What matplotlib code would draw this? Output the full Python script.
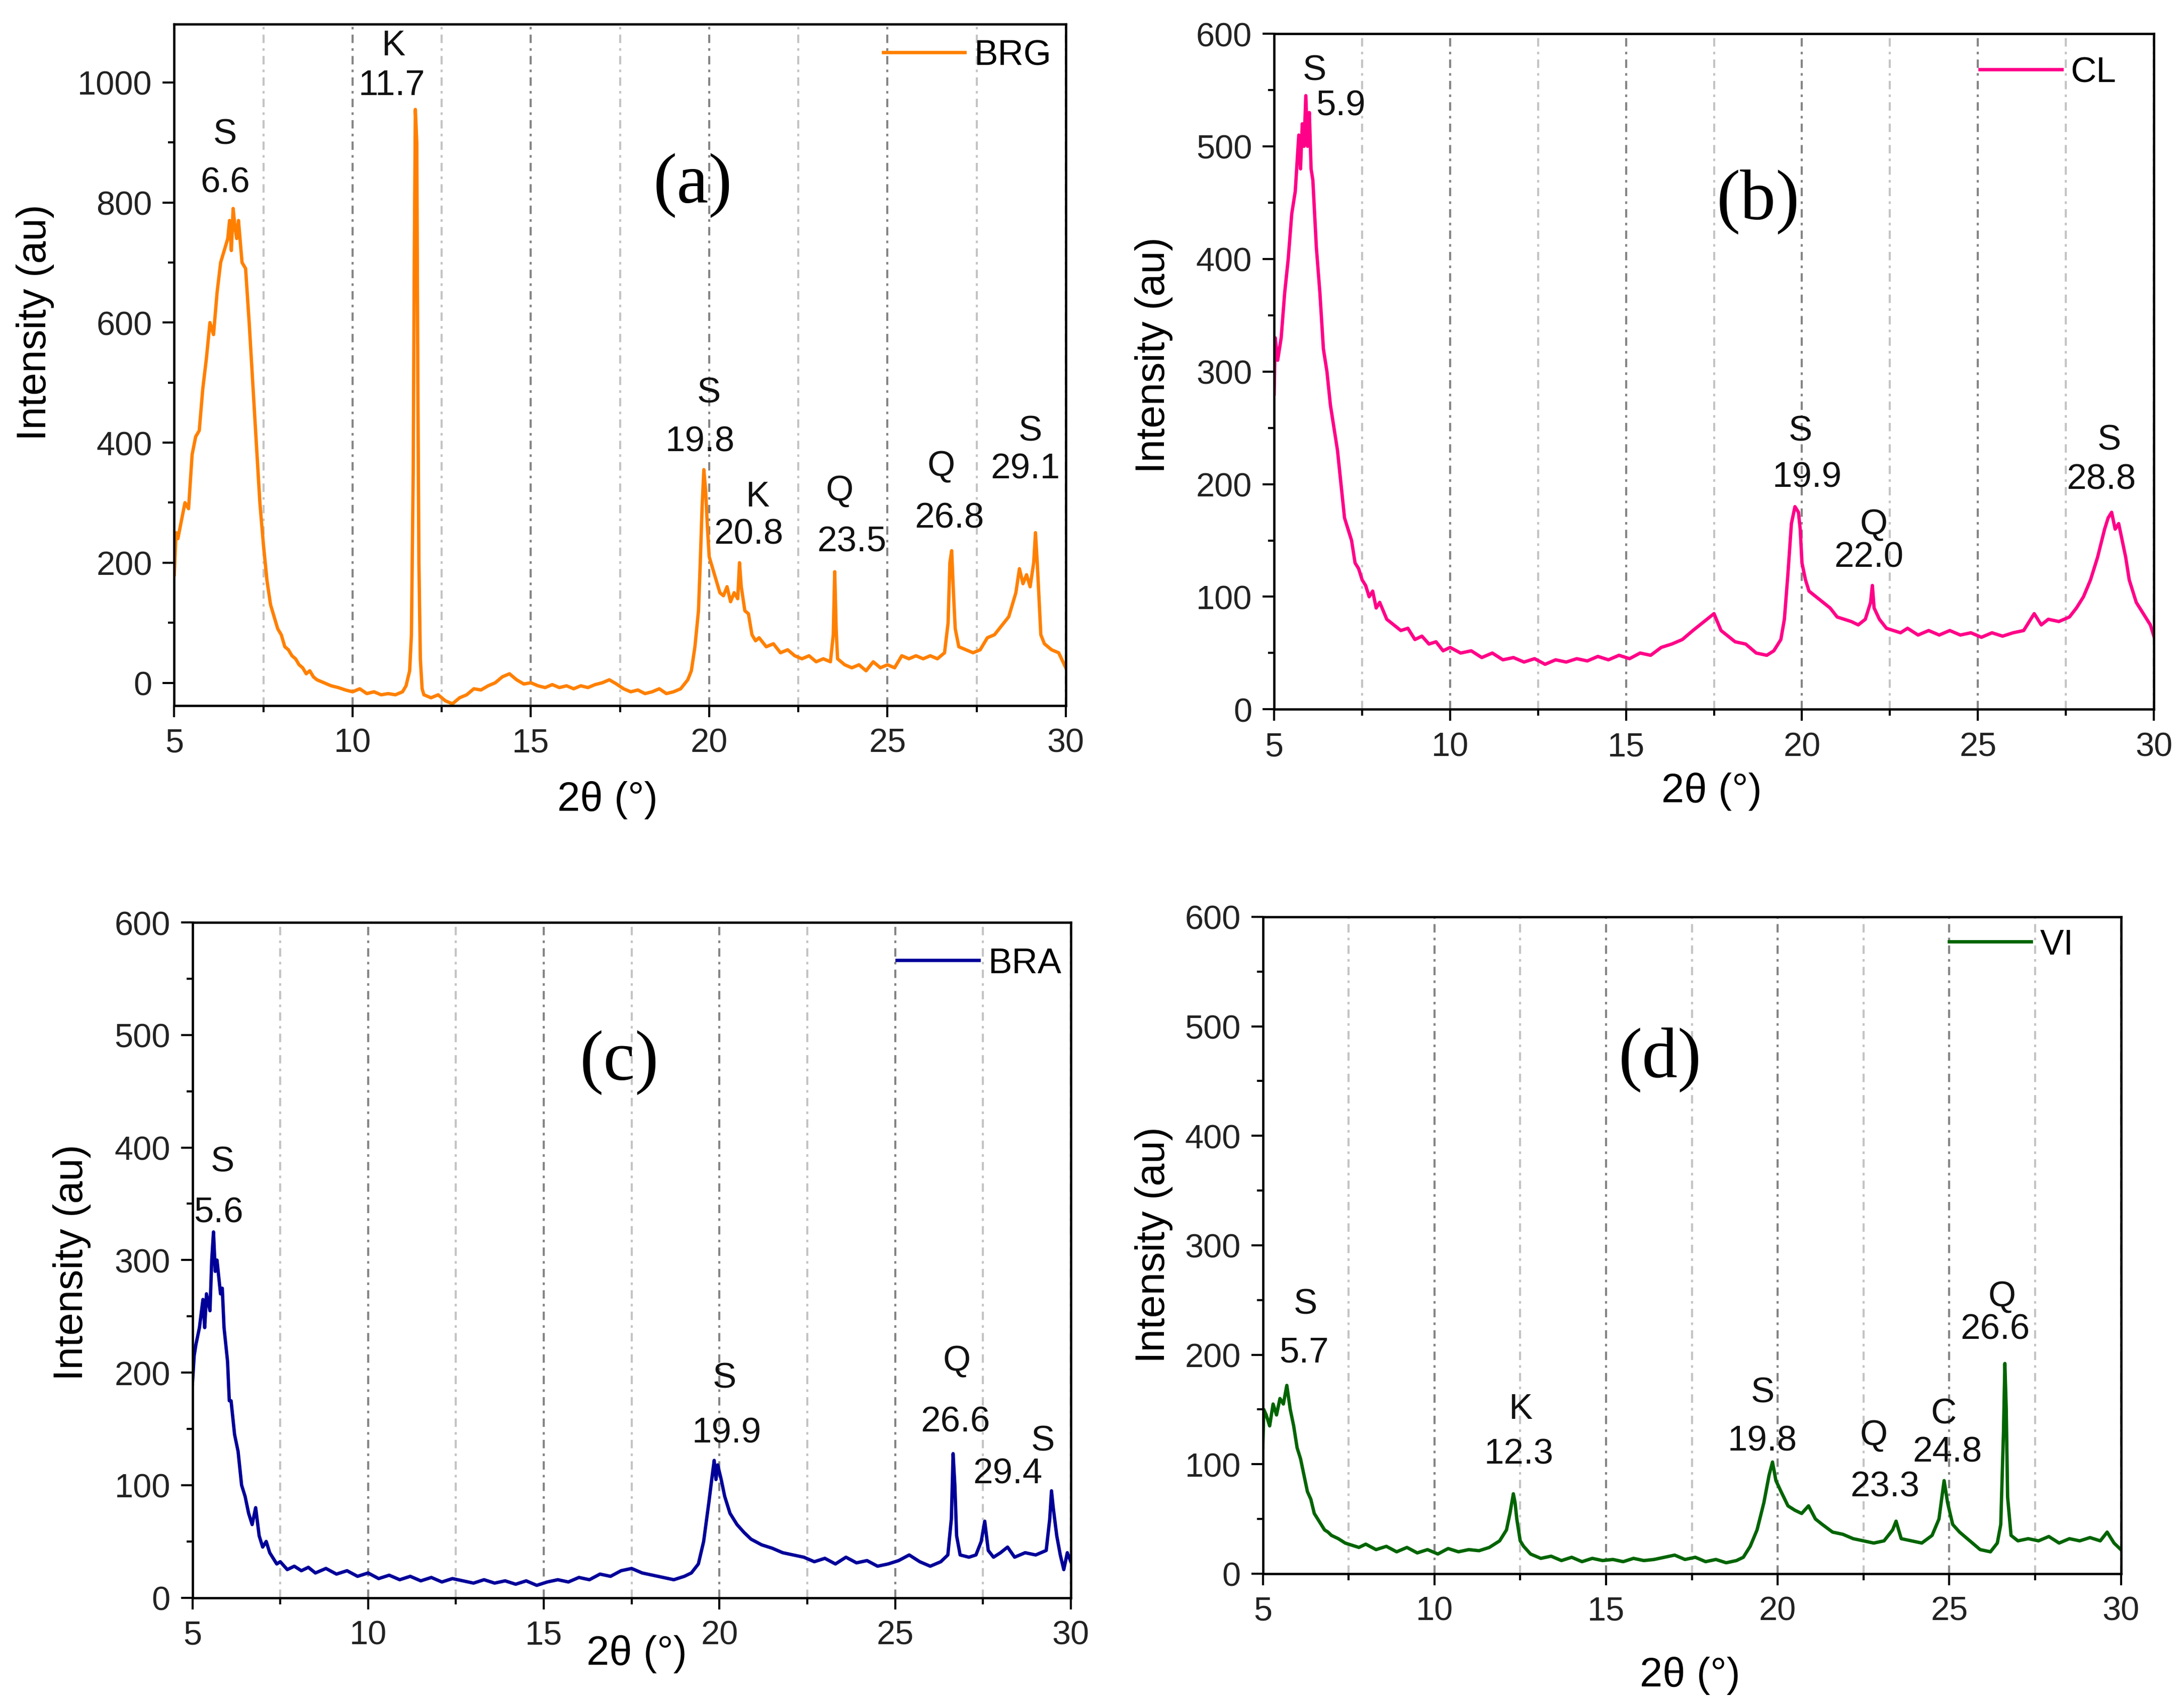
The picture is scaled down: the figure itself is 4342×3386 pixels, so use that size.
import matplotlib.pyplot as plt
from matplotlib.ticker import MultipleLocator

plt.rcParams['font.family'] = ['Liberation Sans', 'DejaVu Sans']

# ---- BRG (a) ----
brg_2theta = [5.0, 5.05, 5.1, 5.2, 5.3, 5.4, 5.5, 5.6, 5.7, 5.8, 5.9, 6.0, 6.1, 6.2, 6.3, 6.4,
              6.5, 6.55, 6.6, 6.65, 6.7, 6.75, 6.8, 6.9, 7.0, 7.1, 7.2, 7.3, 7.4, 7.5, 7.6, 7.7,
              7.8, 7.9, 8.0, 8.1, 8.2, 8.3, 8.4, 8.5, 8.6, 8.7, 8.8, 8.9, 9.0, 9.2, 9.4, 9.6,
              9.8, 10.0, 10.2, 10.4, 10.6, 10.8, 11.0, 11.2, 11.4, 11.5, 11.6, 11.65, 11.7, 11.73,
              11.76, 11.8, 11.83, 11.86, 11.9, 11.95, 12.0, 12.2, 12.4, 12.6, 12.8, 13.0, 13.2, 13.4,
              13.6, 13.8, 14.0, 14.2, 14.4, 14.6, 14.8, 15.0, 15.2, 15.4, 15.6, 15.8, 16.0, 16.2,
              16.4, 16.6, 16.8, 17.0, 17.2, 17.4, 17.6, 17.8, 18.0, 18.2, 18.4, 18.6, 18.8, 19.0,
              19.2, 19.4, 19.5, 19.6, 19.7, 19.75, 19.8, 19.85, 19.9, 19.95, 20.0, 20.1, 20.2, 20.3,
              20.4, 20.5, 20.6, 20.7, 20.8, 20.85, 20.9, 21.0, 21.1, 21.2, 21.3, 21.4, 21.6, 21.8,
              22.0, 22.2, 22.4, 22.6, 22.8, 23.0, 23.2, 23.4, 23.48, 23.52, 23.56, 23.6, 23.8, 24.0,
              24.2, 24.4, 24.6, 24.8, 25.0, 25.2, 25.4, 25.6, 25.8, 26.0, 26.2, 26.4, 26.6, 26.7,
              26.75, 26.8, 26.85, 26.9, 27.0, 27.2, 27.4, 27.6, 27.8, 28.0, 28.2, 28.4, 28.6, 28.7,
              28.8, 28.9, 29.0, 29.1, 29.15, 29.2, 29.3, 29.4, 29.6, 29.8, 30.0]
brg_counts = [180, 250, 240, 270, 300, 290, 380, 410, 420, 490, 540, 600, 580, 650, 700, 720,
              740, 770, 720, 790, 760, 740, 770, 700, 690, 600, 500, 400, 300, 230, 170, 130,
              110, 90, 80, 60, 55, 45, 40, 30, 25, 15, 20, 10, 5, 0, -5, -8,
              -12, -15, -10, -18, -15, -20, -18, -20, -15, -5, 20, 80, 350, 700,
              955, 900, 500, 200, 40, -10, -20, -25, -20, -30, -35, -25, -20, -10,
              -12, -5, 0, 10, 15, 5, -2, 0, -5, -8, -3, -8, -5, -10,
              -5, -8, -3, 0, 5, -2, -10, -15, -12, -18, -15, -10, -18, -15,
              -10, 5, 20, 60, 120, 200, 290, 355, 320, 260, 210, 190, 170, 150,
              145, 160, 135, 150, 140, 200, 160, 120, 115, 80, 70, 75, 60, 65,
              50, 55, 45, 40, 45, 35, 40, 35, 80, 185, 90, 40, 30, 25,
              30, 20, 35, 25, 30, 25, 45, 40, 45, 40, 45, 40, 50, 100,
              200, 220, 150, 90, 60, 55, 50, 55, 75, 80, 95, 110, 150, 190,
              165, 180, 160, 200, 250, 200, 80, 65, 55, 50, 25]

# ---- CL (b) ----
cl_2theta = [5.0, 5.03, 5.1, 5.2, 5.3, 5.4, 5.5, 5.6, 5.7, 5.75, 5.8, 5.85, 5.9, 5.95, 6.0, 6.05,
             6.1, 6.2, 6.3, 6.4, 6.5, 6.6, 6.7, 6.8, 6.9, 7.0, 7.1, 7.2, 7.3, 7.4, 7.5, 7.6,
             7.7, 7.8, 7.9, 8.0, 8.2, 8.4, 8.6, 8.8, 9.0, 9.2, 9.4, 9.6, 9.8, 10.0, 10.3, 10.6,
             10.9, 11.2, 11.5, 11.8, 12.1, 12.4, 12.7, 13.0, 13.3, 13.6, 13.9, 14.2, 14.5, 14.8,
             15.1, 15.4, 15.7, 16.0, 16.3, 16.6, 16.9, 17.1, 17.3, 17.5, 17.7, 17.9, 18.1, 18.4,
             18.7, 19.0, 19.2, 19.4, 19.5, 19.6, 19.7, 19.8, 19.9, 19.95, 20.0, 20.1, 20.2, 20.4,
             20.6, 20.8, 21.0, 21.2, 21.4, 21.6, 21.8, 21.95, 22.0, 22.05, 22.2, 22.4, 22.6, 22.8,
             23.0, 23.3, 23.6, 23.9, 24.2, 24.5, 24.8, 25.1, 25.4, 25.7, 26.0, 26.3, 26.6, 26.8,
             27.0, 27.3, 27.6, 27.8, 28.0, 28.2, 28.4, 28.6, 28.7, 28.8, 28.9, 29.0, 29.1, 29.2,
             29.3, 29.5, 29.7, 29.9, 30.0]
cl_counts = [280, 330, 310, 330, 370, 400, 440, 460, 510, 480, 520, 500, 545, 500, 530, 480,
             470, 410, 370, 320, 300, 270, 250, 230, 200, 170, 160, 150, 130, 125, 115, 110,
             100, 105, 90, 95, 80, 75, 70, 72, 62, 65, 58, 60, 52, 55, 50, 52,
             46, 50, 44, 46, 42, 45, 40, 44, 42, 45, 43, 47, 44, 48,
             45, 50, 48, 55, 58, 62, 70, 75, 80, 85, 70, 65, 60, 58,
             50, 48, 52, 62, 80, 120, 165, 180, 175, 160, 130, 115, 105, 100,
             95, 90, 82, 80, 78, 75, 80, 95, 110, 90, 80, 72, 70, 68,
             72, 66, 70, 66, 70, 66, 68, 64, 68, 65, 68, 70, 85, 75,
             80, 78, 82, 90, 100, 115, 135, 160, 170, 175, 160, 165, 150, 135,
             115, 95, 85, 75, 65]

# ---- BRA (c) ----
bra_2theta = [5.0, 5.05, 5.1, 5.2, 5.3, 5.35, 5.4, 5.5, 5.55, 5.6, 5.65, 5.7, 5.75, 5.8, 5.85, 5.9,
              6.0, 6.05, 6.1, 6.2, 6.3, 6.4, 6.5, 6.6, 6.7, 6.8, 6.9, 7.0, 7.1, 7.2, 7.3, 7.4,
              7.5, 7.7, 7.9, 8.1, 8.3, 8.5, 8.8, 9.1, 9.4, 9.7, 10.0, 10.3, 10.6, 10.9, 11.2, 11.5,
              11.8, 12.1, 12.4, 12.7, 13.0, 13.3, 13.6, 13.9, 14.2, 14.5, 14.8, 15.1, 15.4, 15.7,
              16.0, 16.3, 16.6, 16.9, 17.2, 17.5, 17.8, 18.1, 18.4, 18.7, 19.0, 19.2, 19.4, 19.55,
              19.7, 19.8, 19.85, 19.9, 19.95, 20.05, 20.15, 20.3, 20.5, 20.7, 20.9, 21.2, 21.5, 21.8,
              22.1, 22.4, 22.7, 23.0, 23.3, 23.6, 23.9, 24.2, 24.5, 24.8, 25.1, 25.4, 25.7, 26.0,
              26.3, 26.5, 26.6, 26.65, 26.7, 26.75, 26.85, 27.1, 27.3, 27.45, 27.55, 27.65, 27.8, 28.0,
              28.2, 28.4, 28.7, 29.0, 29.3, 29.4, 29.45, 29.5, 29.6, 29.7, 29.8, 29.9, 30.0]
bra_counts = [190, 215, 225, 240, 265, 240, 270, 255, 300, 325, 290, 300, 285, 270, 275, 240,
              210, 175, 175, 145, 130, 100, 90, 75, 65, 80, 55, 45, 50, 40, 35, 30,
              32, 25, 28, 24, 27, 22, 26, 21, 24, 19, 22, 17, 20, 16, 19, 15,
              18, 14, 17, 15, 13, 16, 13, 15, 12, 15, 11, 14, 16, 14,
              18, 16, 21, 19, 24, 26, 22, 20, 18, 16, 19, 22, 30, 50,
              85, 110, 122, 105, 118, 105, 90, 75, 65, 58, 52, 47, 44, 40,
              38, 36, 32, 35, 30, 36, 31, 33, 28, 30, 33, 38, 32, 28,
              32, 38, 70, 128, 100, 55, 38, 36, 38, 50, 68, 42, 36, 40,
              45, 36, 40, 38, 42, 70, 95, 80, 55, 38, 25, 40, 32]

# ---- VI (d) ----
vi_2theta = [5.0, 5.03, 5.1, 5.2, 5.3, 5.4, 5.5, 5.6, 5.7, 5.8, 5.9, 6.0, 6.1, 6.2, 6.3, 6.4,
             6.5, 6.6, 6.7, 6.8, 6.9, 7.0, 7.2, 7.4, 7.6, 7.8, 8.0, 8.3, 8.6, 8.9, 9.2, 9.5,
             9.8, 10.1, 10.4, 10.7, 11.0, 11.3, 11.6, 11.9, 12.1, 12.2, 12.3, 12.35, 12.4, 12.5,
             12.6, 12.8, 13.1, 13.4, 13.7, 14.0, 14.3, 14.6, 14.9, 15.2, 15.5, 15.8, 16.1, 16.4,
             16.7, 17.0, 17.3, 17.6, 17.9, 18.2, 18.5, 18.8, 19.0, 19.2, 19.4, 19.6, 19.75, 19.85,
             19.95, 20.1, 20.3, 20.5, 20.7, 20.9, 21.1, 21.3, 21.6, 21.9, 22.2, 22.5, 22.8, 23.1,
             23.35, 23.45, 23.6, 23.9, 24.2, 24.5, 24.7, 24.85, 24.95, 25.1, 25.3, 25.6, 25.9, 26.2,
             26.4, 26.5, 26.58, 26.62, 26.66, 26.7, 26.8, 27.0, 27.3, 27.6, 27.9, 28.2, 28.5, 28.8,
             29.1, 29.4, 29.6, 29.8, 30.0]
vi_counts = [115, 150, 145, 135, 155, 145, 160, 155, 172, 150, 135, 115, 105, 90, 75, 68,
             55, 50, 45, 40, 38, 35, 32, 28, 26, 24, 27, 22, 25, 20, 24, 19,
             22, 18, 23, 20, 22, 21, 24, 30, 40, 55, 73, 65, 50, 30,
             25, 18, 14, 16, 12, 15, 11, 14, 12, 13, 11, 14, 12, 13,
             15, 17, 13, 15, 11, 13, 10, 12, 15, 25, 40, 65, 90, 102,
             85, 75, 62, 58, 55, 62, 50, 45, 38, 36, 32, 30, 28, 30,
             40, 48, 32, 30, 28, 35, 50, 85, 65, 45, 38, 30, 22, 20,
             28, 45, 130, 192, 150, 70, 35, 30, 32, 30, 34, 28, 32, 30,
             33, 30, 38, 28, 22]

# peak labels: (x, y, text)
brg_marks = [(6.43, 913, 'S'), (6.43, 833, '6.6'), (11.14, 1061, 'K'), (11.1, 995, '11.7'),
             (19.99, 483, 'S'), (19.74, 401, '19.8'), (21.35, 310, 'K'), (21.11, 247, '20.8'),
             (23.66, 319, 'Q'), (24.0, 235, '23.5'), (26.51, 360, 'Q'), (26.74, 274, '26.8'),
             (29.0, 419, 'S'), (28.86, 356, '29.1')]
cl_marks = [(6.15, 567, 'S'), (6.89, 536, '5.9'), (19.96, 247, 'S'), (20.15, 206, '19.9'),
            (22.04, 164, 'Q'), (21.9, 135, '22.0'), (28.73, 239, 'S'), (28.51, 204, '28.8')]
bra_marks = [(5.86, 387, 'S'), (5.74, 342, '5.6'), (20.14, 195, 'S'), (20.2, 146, '19.9'),
             (26.75, 210, 'Q'), (26.71, 156, '26.6'), (29.2, 139, 'S'), (28.2, 110, '29.4')]
vi_marks = [(6.24, 246, 'S'), (6.2, 202, '5.7'), (12.5, 150, 'K'), (12.46, 109, '12.3'),
            (19.56, 165, 'S'), (19.56, 121, '19.8'), (22.8, 126, 'Q'), (23.13, 79, '23.3'),
            (24.84, 146, 'C'), (24.94, 111, '24.8'), (26.53, 253, 'Q'), (26.33, 223, '26.6')]

panels = [
    dict(x=brg_2theta, y=brg_counts, name='BRG', color='#FF8000', marks=brg_marks,
         rect=[0.0798, 0.5855, 0.4082, 0.4000], ylim=(-38, 1097), major=200, minor=100,
         tag='(a)', tag_xy=(19.54, 829), leg=(0.795, 0.954),
         xlab=(0.486, -0.138), ylab=(-0.156, 0.563)),
    dict(x=cl_2theta, y=cl_counts, name='CL', color='#FF0088', marks=cl_marks,
         rect=[0.5834, 0.5833, 0.4028, 0.3966], ylim=(0, 600), major=100, minor=50,
         tag='(b)', tag_xy=(18.76, 451), leg=(0.802, 0.942),
         xlab=(0.497, -0.121), ylab=(-0.137, 0.525)),
    dict(x=bra_2theta, y=bra_counts, name='BRA', color='#000099', marks=bra_marks,
         rect=[0.0881, 0.0618, 0.4022, 0.3964], ylim=(0, 600), major=100, minor=50,
         tag='(c)', tag_xy=(17.15, 476), leg=(0.802, 0.939),
         xlab=(0.506, -0.083), ylab=(-0.137, 0.497)),
    dict(x=vi_2theta, y=vi_counts, name='VI', color='#006400', marks=vi_marks,
         rect=[0.5782, 0.0759, 0.3929, 0.3856], ylim=(0, 600), major=100, minor=50,
         tag='(d)', tag_xy=(16.58, 470), leg=(0.800, 0.957),
         xlab=(0.498, -0.155), ylab=(-0.127, 0.501)),
]

fig = plt.figure(figsize=(4342 / 300, 3387 / 300), dpi=300)

for p in panels:
    ax = fig.add_axes(p['rect'])
    ax.plot(p['x'], p['y'], color=p['color'], lw=1.6, label=p['name'])
    ax.set_xlim(5, 30)
    ax.set_ylim(*p['ylim'])
    ax.xaxis.set_major_locator(MultipleLocator(5))
    ax.xaxis.set_minor_locator(MultipleLocator(2.5))
    ax.set_yticks([t for t in range(0, int(p['ylim'][1]) + 1, p['major'])])
    ax.yaxis.set_minor_locator(MultipleLocator(p['minor']))
    ax.tick_params(which='major', direction='out', length=5.5, width=1.0, labelsize=16,
                   pad=5, colors='black', labelcolor='#222222')
    ax.tick_params(which='minor', direction='out', length=3, width=1.0)
    ax.tick_params(top=False, right=False, which='both')
    for sp in ax.spines.values():
        sp.set_linewidth(1.1)

    # vertical grid lines, darker on the major ticks
    ax.grid(True, axis='x', which='major', color='#858585', lw=1.0, dashes=(4, 2.5, 1.2, 2.5))
    ax.grid(True, axis='x', which='minor', color='#c4c4c4', lw=1.0, dashes=(4, 2.5, 1.2, 2.5))
    ax.set_axisbelow(True)

    for mx, my, txt in p['marks']:
        ax.text(mx, my, txt, fontsize=17, ha='center', va='center', color='#111111')
    ax.text(p['tag_xy'][0], p['tag_xy'][1], p['tag'], fontsize=34, ha='center', va='center',
            family='Liberation Serif')

    ax.set_xlabel('2θ (°)', fontsize=19.5)
    ax.set_ylabel('Intensity (au)', fontsize=19.5)
    ax.xaxis.set_label_coords(*p['xlab'])
    ax.yaxis.set_label_coords(*p['ylab'])
    ax.xaxis.label.set_va('center')
    ax.yaxis.label.set_va('center')

    ax.legend(loc='center left', bbox_to_anchor=p['leg'], frameon=False, fontsize=17,
              handlelength=2.3, handletextpad=0.25, borderpad=0, borderaxespad=0)

fig.savefig('out.png', dpi=300)
